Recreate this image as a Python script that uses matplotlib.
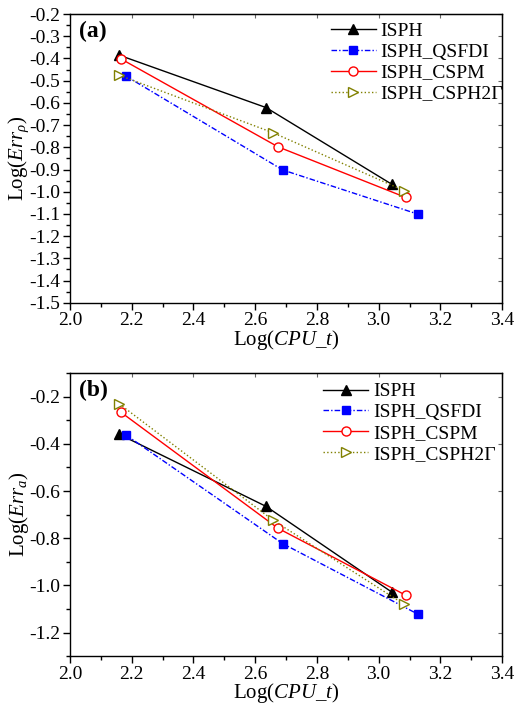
import matplotlib
matplotlib.use('Agg')
import matplotlib.pyplot as plt
from matplotlib.ticker import MultipleLocator

plt.rcParams['font.family'] = ['Liberation Serif', 'DejaVu Serif']
plt.rcParams['mathtext.fontset'] = 'custom'
plt.rcParams['mathtext.rm'] = 'Liberation Serif'
plt.rcParams['mathtext.it'] = 'Liberation Serif:italic'
plt.rcParams['axes.unicode_minus'] = False

labels = ['ISPH', 'ISPH_QSFDI', 'ISPH_CSPM', 'ISPH_CSPH2Γ']

# x = Log(CPU_t) for each method (same in both panels)
x_isph = [2.159, 2.635, 3.042]
x_qsfdi = [2.181, 2.689, 3.127]
x_cspm = [2.164, 2.674, 3.088]
x_csph = [2.160, 2.657, 3.082]

# panel (a): Log(Err_rho)
a_isph = [-0.385, -0.621, -0.966]
a_qsfdi = [-0.479, -0.902, -1.101]
a_cspm = [-0.401, -0.798, -1.026]
a_csph = [-0.476, -0.734, -0.995]

# panel (b): Log(Err_a)
b_isph = [-0.359, -0.665, -1.028]
b_qsfdi = [-0.362, -0.823, -1.122]
b_cspm = [-0.265, -0.758, -1.042]
b_csph = [-0.231, -0.723, -1.080]

styles = [
    dict(color='black', ls='-', marker='^', mfc='black', mec='black', ms=6.5),
    dict(color='blue', ls=(0, (4, 1.5, 1, 1.5)), marker='s', mfc='blue', mec='blue', ms=6),
    dict(color='red', ls='-', marker='o', mfc='white', mec='red', ms=6.5),
    dict(color='#808000', ls=':', marker='>', mfc='white', mec='#808000', ms=7),
]

fig = plt.figure(figsize=(5.15, 7.04), dpi=100)
ax1 = fig.add_axes([0.136, 0.570, 0.839, 0.410])
ax2 = fig.add_axes([0.136, 0.068, 0.839, 0.402])

panels = [
    (ax1, [a_isph, a_qsfdi, a_cspm, a_csph], '(a)', r'Log($Err_\rho$)',
     (-1.5, -0.2), 0.1, 0.05, (0.604, 0.972)),
    (ax2, [b_isph, b_qsfdi, b_cspm, b_csph], '(b)', r'Log($Err_a$)',
     (-1.3, -0.1), 0.2, 0.1, (0.586, 0.966)),
]
xs = [x_isph, x_qsfdi, x_cspm, x_csph]

for ax, ys, tag, ylab, ylim, ymaj, ymin, anchor in panels:
    for x, y, lab, st in zip(xs, ys, labels, styles):
        ax.plot(x, y, lw=1.0, label=lab, **st)
    ax.set_xlim(2.0, 3.4)
    ax.set_ylim(*ylim)
    ax.xaxis.set_major_locator(MultipleLocator(0.2))
    ax.xaxis.set_minor_locator(MultipleLocator(0.1))
    ax.yaxis.set_major_locator(MultipleLocator(ymaj))
    ax.yaxis.set_minor_locator(MultipleLocator(ymin))
    ax.tick_params(which='both', direction='out', labelsize=14, width=1.0, pad=2)
    ax.tick_params(which='major', length=5)
    ax.tick_params(which='minor', length=3)
    ax.xaxis.set_ticks_position('bottom')
    ax.yaxis.set_ticks_position('left')
    # faint inward ticks on top and right
    sec_x = ax.secondary_xaxis('top')
    sec_x.xaxis.set_major_locator(MultipleLocator(0.2))
    sec_x.xaxis.set_minor_locator(MultipleLocator(0.1))
    sec_x.tick_params(which='both', direction='in', labeltop=False, color='0.4')
    sec_x.tick_params(which='major', length=3)
    sec_x.tick_params(which='minor', length=0)
    sec_y = ax.secondary_yaxis('right')
    sec_y.yaxis.set_major_locator(MultipleLocator(ymaj))
    sec_y.yaxis.set_minor_locator(MultipleLocator(ymin))
    sec_y.tick_params(which='both', direction='in', labelright=False, color='0.4')
    sec_y.tick_params(which='major', length=3)
    sec_y.tick_params(which='minor', length=0)
    for sp in ax.spines.values():
        sp.set_linewidth(1.0)
    ax.set_xlabel(r'Log($CPU\_t$)', fontsize=15, labelpad=-1)
    ax.set_ylabel(ylab, fontsize=15, labelpad=-1)
    ax.text(0.02, 0.975, tag, transform=ax.transAxes, fontsize=17,
            fontweight='bold', va='top', ha='left')
    ax.legend(loc='upper left', bbox_to_anchor=anchor, frameon=False,
              fontsize=14, borderpad=0, borderaxespad=0, labelspacing=0.17,
              handlelength=2.3, handletextpad=0.25)

fig.savefig('out.png', dpi=100)
